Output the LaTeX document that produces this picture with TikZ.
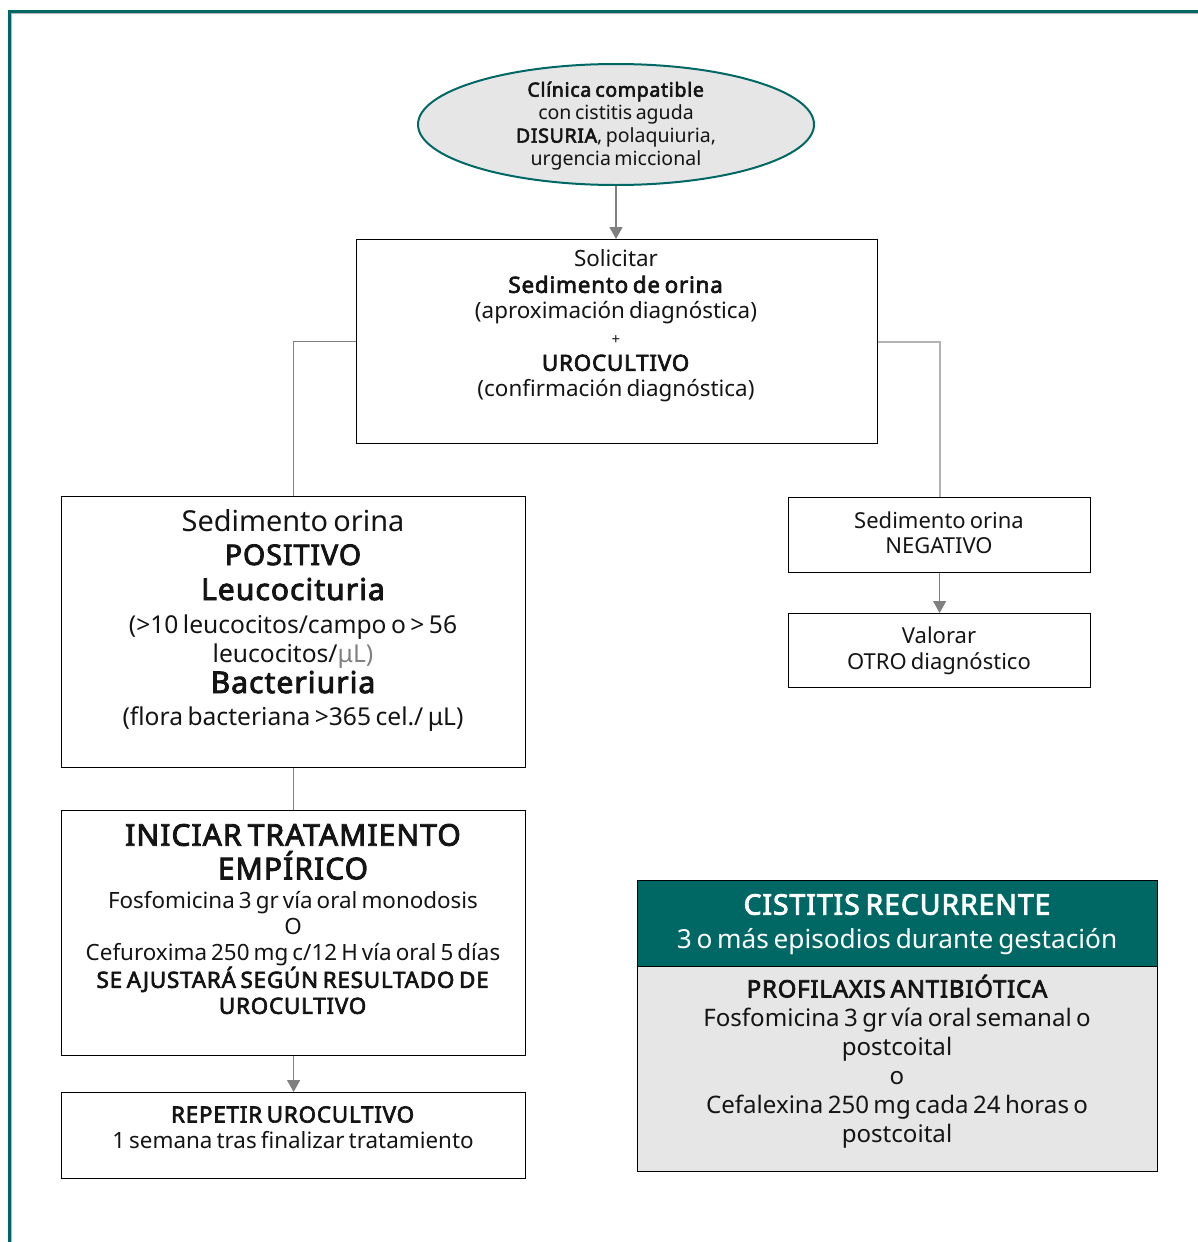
\documentclass[tikz,border=0pt]{standalone}
\usepackage{fontspec}
\setmainfont{Noto Sans}[BoldFont={Noto Sans},BoldFeatures={FakeBold=3,LetterSpace=3.5},WordSpace=0.7]
\usetikzlibrary{arrows.meta,shapes.geometric}
\definecolor{tealA}{RGB}{0,104,100}
\definecolor{lgray}{RGB}{230,230,230}
\definecolor{cgray}{RGB}{128,128,128}
\definecolor{txt}{RGB}{20,20,20}
\begin{document}
\begin{tikzpicture}[x=1pt,y=-1pt,
  box/.style={draw=black,line width=1.2pt,inner sep=0pt,anchor=north west},
  conn/.style={draw=cgray,line width=1.6pt},
  connl/.style={draw=cgray!60,line width=1.8pt},
  arr/.style={conn,-{Triangle[width=13pt,length=12pt]}},
  txtn/.style={text=txt,align=center,inner sep=0pt}
]
\useasboundingbox (0,0) rectangle (1198,1242);
% frame
\coordinate (fa) at (1198,11);
\coordinate (fb) at (9,11);
\coordinate (fc) at (9,1242);
\draw[gray!60,line width=1pt] ([shift={(2,2)}]fa) -- ([shift={(2,2)}]fb) -- ([shift={(2,0)}]fc);
\draw[tealA,line width=3pt] (fa) -- (fb) -- (fc);

% shapes
\node[ellipse,draw=tealA,fill=lgray,line width=2pt,minimum width=396pt,minimum height=121pt,inner sep=0pt] (ell) at (616,124.5) {};
\node[box,minimum width=521pt,minimum height=204pt] (sol) at (356,239) {};
\node[box,minimum width=464pt,minimum height=271pt] (pos) at (61,496) {};
\node[box,minimum width=464pt,minimum height=245pt] (ini) at (61,810) {};
\node[box,minimum width=464pt,minimum height=86pt] (rep) at (61,1092) {};
\node[box,minimum width=302pt,minimum height=75pt] (neg) at (788,497) {};
\node[box,minimum width=302pt,minimum height=74pt] (val) at (788,613) {};
\node[box,fill=tealA,minimum width=520pt,minimum height=86pt] (cish) at (637,880) {};
\node[box,fill=lgray,minimum width=520pt,minimum height=205pt] (cisb) at (637,966) {};

% connectors
\draw[arr] (ell.south) -- (ell.south |- sol.north);
\draw[conn] (sol.west) -| (pos.north);
\draw[connl] (sol.east) -| (neg.north);
\draw[conn] (pos.south) -- (ini.north);
\draw[arr] (ini.south) -- (rep.north);
\draw[arr] (neg.south) -- (neg.south |- val.north);

% texts
\node[txtn,font=\fontsize{19.5}{23}\selectfont] (ellT) at (616,126)
 {\textbf{Clínica compatible}\\con cistitis aguda\\\textbf{DISURIA}, polaquiuria,\\urgencia miccional};
\node[txtn,font=\fontsize{22.4}{26}\selectfont] (solT) at (616,326)
 {Solicitar\\\textbf{Sedimento de orina}\\(aproximación diagnóstica)\\{\fontsize{15}{26}\selectfont +}\\\textbf{UROCULTIVO}\\(confirmación diagnóstica)};
\node[txtn,font=\fontsize{24.6}{31}\selectfont] (posT) at (293,620)
 {{\fontsize{28.9}{31}\selectfont Sedimento orina}\\[3pt]
  {\fontsize{28.5}{31}\selectfont\bfseries POSITIVO}\\[4pt]
  {\fontsize{30}{31}\selectfont\bfseries Leucocituria}\\[2pt]
  (>10 leucocitos/campo o > 56\\[-2pt]
  leucocitos/\textcolor{gray}{μL)}\\
  {\fontsize{30}{31}\selectfont\bfseries Bacteriuria}\\[1pt]
  (flora bacteriana >365 cel./ μL)};
\node[txtn,font=\fontsize{22.4}{26}\selectfont] (iniT) at (293,919)
 {{\fontsize{30}{33}\selectfont\bfseries INICIAR TRATAMIENTO}\\[4pt]
  {\fontsize{30}{33}\selectfont\bfseries EMPÍRICO}\\[3pt]
  Fosfomicina 3 gr vía oral monodosis\\
  O\\
  Cefuroxima 250 mg c/12 H vía oral 5 días\\
  \textbf{SE AJUSTARÁ SEGÚN RESULTADO DE}\\
  \textbf{UROCULTIVO}};
\node[txtn,font=\fontsize{22.4}{26}\selectfont] (repT) at (293,1127.5)
 {\textbf{REPETIR UROCULTIVO}\\1 semana tras finalizar tratamiento};
\node[txtn,font=\fontsize{22}{25}\selectfont] (negT) at (939,532.5)
 {Sedimento orina\\NEGATIVO};
\node[txtn,font=\fontsize{22}{26}\selectfont] (valT) at (939,650.5)
 {Valorar\\OTRO diagnóstico};
\node[txtn,text=white,font=\fontsize{26.2}{34}\selectfont] (cishT) at (897,924.5)
 {{\fontsize{28.3}{34}\selectfont\bfseries CISTITIS RECURRENTE}\\3 o más episodios durante gestación};
\node[txtn,font=\fontsize{24.1}{29}\selectfont] (cisbT) at (897,1061.5)
 {{\fontsize{23.9}{29}\selectfont\bfseries PROFILAXIS ANTIBIÓTICA}\\Fosfomicina 3 gr vía oral semanal o\\postcoital\\o\\Cefalexina 250 mg cada 24 horas o\\postcoital};
\end{tikzpicture}
\end{document}
